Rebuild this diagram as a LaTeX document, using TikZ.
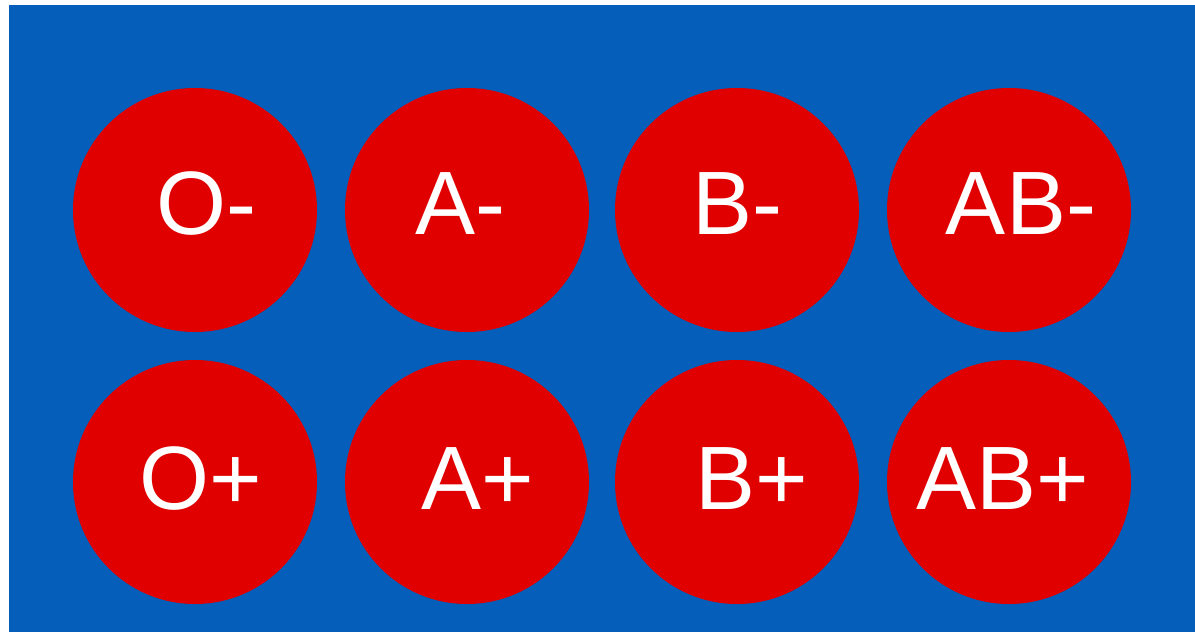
\documentclass[tikz,border=0pt]{standalone}
\usepackage{fontspec}
\setmainfont{Liberation Sans}
\definecolor{bgblue}{RGB}{5,94,185}
\definecolor{dropred}{RGB}{224,0,0}

\begin{document}
\begin{tikzpicture}[
  x=0.5pt, y=-0.5pt,
  drop/.style={circle, fill=dropred, minimum size=122pt, inner sep=0pt},
  grp/.style={text=white, font=\fontsize{45}{45}\selectfont, inner sep=0pt}
]
\useasboundingbox (0,0) rectangle (1195,632);
\fill[bgblue] (9,5) rectangle (1195,632);

% negative row
\node[drop] (oneg)  at (195,210) {};
\node[drop] (aneg)  at (467,210) {};
\node[drop] (bneg)  at (737,210) {};
\node[drop] (abneg) at (1009,210) {};

% positive row
\node[drop] (opos)  at (195,482) {};
\node[drop] (apos)  at (467,482) {};
\node[drop] (bpos)  at (737,482) {};
\node[drop] (abpos) at (1009,482) {};

\node[grp] (loneg)  at (206,204)  {O-};
\node[grp] (laneg)  at (460,204)  {A-};
\node[grp] (lbneg)  at (737,204)  {B-};
\node[grp] (labneg) at (1021,204) {AB-};

\node[grp] (lopos)  at (201,479)  {O+};
\node[grp] (lapos)  at (478,479)  {A+};
\node[grp] (lbpos)  at (752,479)  {B+};
\node[grp] (labpos) at (1003,479) {AB+};
\end{tikzpicture}
\end{document}
